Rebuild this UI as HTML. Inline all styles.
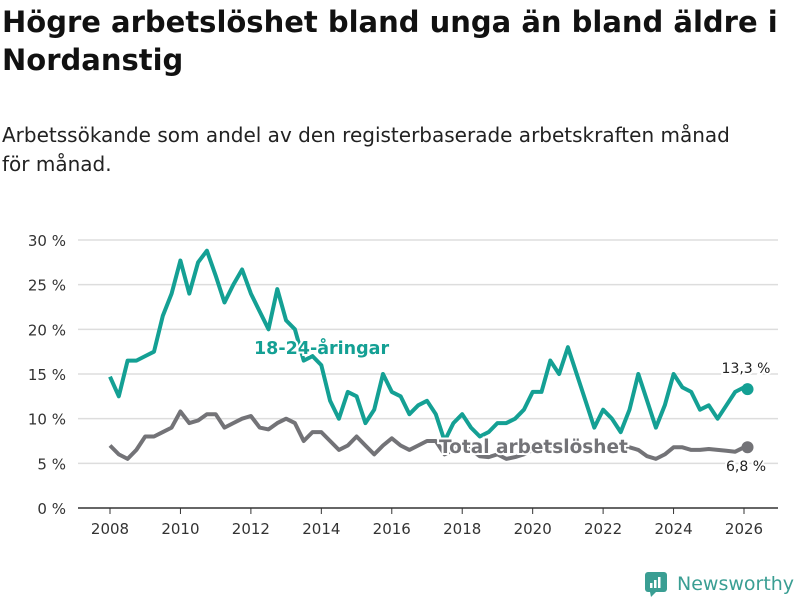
<!DOCTYPE html>
<html><head><meta charset="utf-8"><style>
body{margin:0;width:800px;height:600px;background:#fff;font-family:"DejaVu Sans","Liberation Sans",sans-serif;overflow:hidden;position:relative}
h1{position:absolute;left:2px;top:3px;margin:0;font-size:29px;line-height:38px;font-weight:bold;color:#111;width:798px;white-space:nowrap}
.sub{position:absolute;left:2px;top:121px;font-size:20px;line-height:29px;color:#222;width:798px}
svg{position:absolute;left:0;top:0}
</style></head><body>
<h1>Högre arbetslöshet bland unga än bland äldre i<br>Nordanstig</h1>
<div class="sub">Arbetssökande som andel av den registerbaserade arbetskraften månad<br>för månad.</div>
<svg id="c" width="800" height="600"></svg>
<script>
const years=[2008,2010,2012,2014,2016,2018,2020,2022,2024,2026];
const yTicks=[0,5,10,15,20,25,30];
const times=[];for(let i=0;i<=72;i++)times.push(2008+i*0.25);times.push(2026.1);
const youth=[14.7,12.5,16.5,16.5,17,17.5,21.5,24,27.7,24,27.5,28.8,26,23,25,26.7,24,22,20,24.5,21,20,16.5,17,16,12,10,13,12.5,9.5,11,15,13,12.5,10.5,11.5,12,10.5,7.5,9.5,10.5,9,8,8.5,9.5,9.5,10,11,13,13,16.5,15,18,15,12,9,11,10,8.5,11,15,12,9,11.5,15,13.5,13,11,11.5,10,11.5,13,13.5,13.3];
const total=[7,6,5.5,6.5,8,8,8.5,9,10.8,9.5,9.8,10.5,10.5,9,9.5,10,10.3,9,8.8,9.5,10,9.5,7.5,8.5,8.5,7.5,6.5,7,8,7,6,7,7.8,7,6.5,7,7.5,7.5,6,6.5,7,6.5,5.8,5.7,6,5.5,5.7,6,6.5,6.8,7,6.8,7,6.8,6.5,6.3,6.5,6.8,6.6,6.8,6.5,5.8,5.5,6,6.8,6.8,6.5,6.5,6.6,6.5,6.4,6.3,6.8,6.8];
const X=t=>110+(t-2008)*(744-110)/18;
const Y=v=>508-v*(268/30);
const svg=document.getElementById('c');const NS='http://www.w3.org/2000/svg';
function mk(tag,attrs,parent){const e=document.createElementNS(NS,tag);for(const k in attrs)e.setAttribute(k,attrs[k]);(parent||svg).appendChild(e);return e;}
yTicks.forEach(v=>{
 const l=mk('line',{x1:78,x2:778,y1:Y(v),y2:Y(v),stroke:v===0?'#333':'#ddd','stroke-width':1.5});
 
 
 const t=mk('text',{x:66,y:Y(v)+6,'text-anchor':'end','font-size':15,fill:'#333'});t.textContent=v+' %';
 
 
});
years.forEach(y=>{
 const l=mk('line',{x1:X(y),x2:X(y),y1:508,y2:514,stroke:'#333'});
 
 
 const t=mk('text',{x:X(y),y:534,'text-anchor':'middle','font-size':15,fill:'#333'});t.textContent=y;
 
 
});
function line(vals,color,name){
 const d=vals.map((v,i)=>(i?'L':'M')+X(times[i]).toFixed(1)+','+Y(v).toFixed(1)).join('');
 const p=mk('path',{d:d,fill:'none',stroke:color,'stroke-width':4,'stroke-linejoin':'round'});
 
 
 const n=vals.length-1;
 const c=mk('circle',{cx:X(times[n]),cy:Y(vals[n]),r:6,fill:color});
 
 
}
line(total,'#737377','total-line');
line(youth,'#14a094','youth-line');
function lab(x,y,txt,col,size,w,name,anchor){
 const t=mk('text',{x:x,y:y,'font-size':size,'font-weight':w,fill:col,stroke:'#fff','stroke-width':4,'paint-order':'stroke','text-anchor':anchor||'start'});t.textContent=txt;
 
 
}
lab(254,354,'18-24-åringar','#14a094',17.5,'bold','youth-label');
lab(439,453,'Total arbetslöshet','#737377',18.5,'bold','total-label');
lab(746,373,'13,3 %','#222',14,'normal','youth-end-value','middle');
lab(746,471,'6,8 %','#222',14,'normal','total-end-value','middle');
</script>
<svg width="800" height="600" style="pointer-events:none">
<rect x="645" y="572" width="22" height="20" rx="3" fill="#3a9e93"/><polygon points="650,592 656,592 651,597" fill="#3a9e93"/>
<rect x="650" y="583" width="2.5" height="5" fill="#fff"/><rect x="654" y="580" width="2.5" height="8" fill="#fff"/><rect x="658" y="577" width="2.5" height="11" fill="#fff"/>
<text x="677" y="590" font-size="19" fill="#3a9e93" font-family="DejaVu Sans,sans-serif">Newsworthy</text>
</svg>
</body></html>
